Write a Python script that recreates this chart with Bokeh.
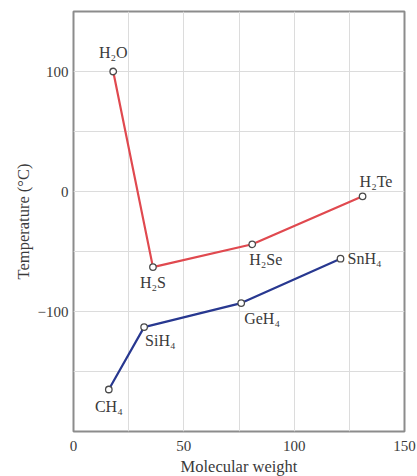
from bokeh.plotting import figure
from bokeh.models import Range1d, FixedTicker, ColumnDataSource
from bokeh.core.properties import value
from bokeh.embed import file_html
from bokeh.resources import INLINE

# Group 16 hydrides
g16_names = ["H₂O", "H₂S", "H₂Se", "H₂Te"]
g16_mw = [18, 36, 81, 131]
g16_bp = [100, -63, -44, -4]

# Group 14 hydrides
g14_names = ["CH₄", "SiH₄", "GeH₄", "SnH₄"]
g14_mw = [16, 32, 76, 121]
g14_bp = [-165, -113, -93, -56]

x_ticks = [0, 50, 100, 150]
y_ticks = [-100, 0, 100]

FONT = "Liberation Serif"

p = figure(frame_width=331, frame_height=420, output_backend="svg", toolbar_location=None,
           x_range=Range1d(0, 150), y_range=Range1d(-200, 150),
           min_border_left=73, min_border_right=12, min_border_top=11, min_border_bottom=44)

p.outline_line_color = "#8c8c8c"
p.outline_line_width = 2
p.background_fill_color = "white"

for ax in (p.xaxis[0], p.yaxis[0]):
    ax.axis_line_color = None
    ax.major_tick_line_color = None
    ax.minor_tick_line_color = None
    ax.major_tick_out = 0
    ax.major_tick_in = 0
    ax.minor_tick_out = 0
    ax.minor_tick_in = 0
    ax.major_label_text_font = FONT
    ax.major_label_text_font_size = "15px"
    ax.major_label_text_color = "#3a3a3a"
    ax.axis_label_text_font = FONT
    ax.axis_label_text_font_size = "16.5px"
    ax.axis_label_text_font_style = "normal"
    ax.axis_label_text_color = "#3a3a3a"

p.xaxis.ticker = FixedTicker(ticks=x_ticks)
p.yaxis.ticker = FixedTicker(ticks=y_ticks)
p.xaxis.major_label_standoff = 9
p.yaxis.major_label_standoff = 5
p.xaxis.axis_label = "Molecular weight"
p.yaxis.axis_label = "Temperature (°C)"
p.xaxis.axis_label_standoff = 3
p.yaxis.axis_label_standoff = 2

p.xgrid.ticker = FixedTicker(ticks=[25, 50, 75, 100, 125])
p.ygrid.ticker = FixedTicker(ticks=[-150, -100, -50, 0, 50, 100])
p.xgrid.grid_line_color = "#dcdcdc"
p.ygrid.grid_line_color = "#dcdcdc"

red = "#e0494f"
blue = "#283890"

s16 = ColumnDataSource(dict(x=g16_mw, y=g16_bp, name=g16_names,
                            xo=[0, 0, -3, -3], yo=[-19, 15, 15, -15],
                            al=["center", "center", "left", "left"]))
s14 = ColumnDataSource(dict(x=g14_mw, y=g14_bp, name=g14_names,
                            xo=[0, 1, 3, 7], yo=[17, 13, 15, 0],
                            al=["center", "left", "left", "left"]))

p.line("x", "y", source=s16, line_color=red, line_width=2.2)
p.line("x", "y", source=s14, line_color=blue, line_width=2.2)
for s in (s16, s14):
    p.scatter("x", "y", source=s, size=6.5, fill_color="white",
              line_color="#4a4a4a", line_width=1.3)
    p.text("x", "y", text="name", source=s, x_offset="xo", y_offset="yo",
           text_align="al", text_baseline="middle",
           text_font=value(FONT), text_font_size="16px", text_color="#3a3a3a")

open("out.html", "w").write(file_html(p, INLINE))
